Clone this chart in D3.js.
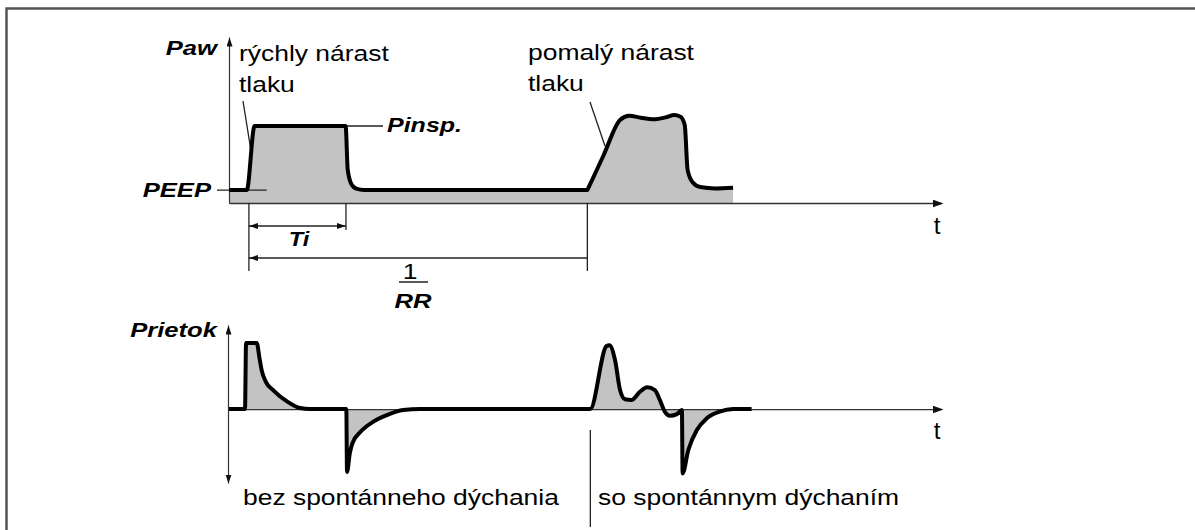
<!DOCTYPE html>
<html>
<head>
<meta charset="utf-8">
<script src="https://cdn.jsdelivr.net/npm/d3@7"></script>
<style>
body { margin: 0; background: #fff; }
text { font-family: "Liberation Sans", Arial, sans-serif; fill: #000; }
.lbl { font-weight: bold; font-style: italic; font-size: 20.5px; }
.txt { font-size: 21.5px; }
.big { font-size: 24px; }
</style>
</head>
<body>
<div id="chart"></div>
<script>
// airway pressure trace (time, pressure)
var pawTime  = [0, 2.5, 3.6, 16.4, 16.7, 17.2, 17.9, 19, 50.4, 50.5, 52.7, 55, 56.3, 57.9, 59.6, 61.6, 62.6, 63.5, 64.1, 64.5, 65.2, 66.3, 68.4, 70.9];
var pawValue = [7.8, 7.8, 46.4, 46.4, 20, 11.5, 8.6, 7.8, 7.8, 8.7, 28.9, 50, 52.5, 51.4, 50.4, 51.8, 53, 52, 47, 20, 12.5, 9.6, 8.8, 9.2];

// flow trace (time, flow)
var flowTime  = [0, 2.25, 2.4, 3.9, 4.3, 4.6, 5.2, 6.2, 8.2, 10, 11.4, 16.5, 16.6, 17.0, 17.4, 18.4, 20.3, 22.2, 24.5, 26.9,
                 50.4, 50.8, 53.1, 53.5, 54.3, 55, 55.7, 56.6, 57.8, 58.8, 59.9, 60.6, 61.3, 62, 63, 63.7, 63.8, 64.6, 65.8, 67.2, 69, 70.9, 73.5];
var flowValue = [0, 0, 39.3, 39.3, 30, 23, 16, 11.3, 4.4, 0.6, 0, 0, -37.4, -26, -20, -14, -7.5, -3.6, -0.6, 0,
                 0, 0, 37.5, 38, 29, 11.3, 5.8, 5.4, 10.3, 12.9, 11.3, 5.4, -1.6, -4, -3, -0.6, -38.3, -24.4, -12.5, -5.5, -1.6, 0, 0];

// timing marks: start of breath, end of inspiration, next breath
var breathStart = 2.8, inspEnd = 16.45, nextBreath = 50.4;
var peepLevel = 7.8, pinspLevel = 46.4;

var pawData = pawTime.map(function(t, i) { return [t, pawValue[i]]; });
var flowData = flowTime.map(function(t, i) { return [t, flowValue[i]]; });

var svg = d3.select("#chart")
  .append("svg")
  .attr("width", 1195)
  .attr("height", 530);

// arrow heads
var defs = svg.append("defs");
defs.append("marker")
  .attr("id", "arr")
  .attr("markerUnits", "userSpaceOnUse")
  .attr("markerWidth", 12).attr("markerHeight", 10)
  .attr("refX", 8).attr("refY", 4)
  .attr("orient", "auto-start-reverse")
  .append("path").attr("d", "M0,0L11,4L0,8Z").attr("fill", "#111");
defs.append("marker")
  .attr("id", "arrSmall")
  .attr("markerUnits", "userSpaceOnUse")
  .attr("markerWidth", 10).attr("markerHeight", 8)
  .attr("refX", 9).attr("refY", 3)
  .attr("orient", "auto-start-reverse")
  .append("path").attr("d", "M0,0L9,3L0,6Z").attr("fill", "#111");

// frame
svg.append("path")
  .attr("d", "M6.5,530V8.5H1195")
  .attr("fill", "none")
  .attr("stroke", "#555")
  .attr("stroke-width", 2.5);

// scales
var x = d3.scaleLinear().domain([0, 100]).range([229, 940]);
var yP = d3.scaleLinear().domain([0, 100]).range([203, 37]);
var yF = d3.scaleLinear().domain([-44, 50]).range([483, 325]);

// ---------- pressure ----------
var areaP = d3.area()
  .x(function(d) { return x(d[0]); })
  .y0(yP(0))
  .y1(function(d) { return yP(d[1]); })
  .curve(d3.curveMonotoneX);
var lineP = d3.line()
  .x(function(d) { return x(d[0]); })
  .y(function(d) { return yP(d[1]); })
  .curve(d3.curveMonotoneX);

svg.append("path").datum(pawData).attr("d", areaP).attr("fill", "#c3c3c3");

var axP = svg.append("g")
  .attr("transform", "translate(0," + yP(0) + ")")
  .call(d3.axisBottom(x).tickValues([]).tickSizeOuter(0));
axP.select(".domain").attr("stroke", "#333").attr("stroke-width", 1.3).attr("marker-end", "url(#arr)");

var ayP = svg.append("g")
  .attr("transform", "translate(" + x(0) + ",0)")
  .call(d3.axisLeft(yP).tickValues([]).tickSizeOuter(0));
ayP.select(".domain").attr("stroke", "#333").attr("stroke-width", 1.2).attr("marker-end", "url(#arrSmall)");

// leader lines
function seg(x1, y1, x2, y2, w) {
  svg.append("line")
    .attr("x1", x1).attr("y1", y1).attr("x2", x2).attr("y2", y2)
    .attr("stroke", "#222").attr("stroke-width", w || 1.3);
}
seg(217, yP(peepLevel), x(5.3), yP(peepLevel));
seg(x(inspEnd), yP(pinspLevel), 383, yP(pinspLevel));
seg(243, 101, 251, 151);
seg(590, 102, 605, 146);

svg.append("path").datum(pawData).attr("d", lineP)
  .attr("fill", "none").attr("stroke", "#000").attr("stroke-width", 4)
  .attr("stroke-linejoin", "round");

// timing dimensions
seg(x(breathStart), yP(0), x(breathStart), 271);
seg(x(inspEnd), yP(0), x(inspEnd), 230);
seg(x(nextBreath), yP(0), x(nextBreath), 271);
svg.append("line")
  .attr("x1", x(breathStart)).attr("x2", x(inspEnd))
  .attr("y1", 226).attr("y2", 226)
  .attr("stroke", "#222").attr("stroke-width", 1.3)
  .attr("marker-start", "url(#arrSmall)").attr("marker-end", "url(#arrSmall)");
svg.append("line")
  .attr("x1", x(breathStart)).attr("x2", x(nextBreath))
  .attr("y1", 258).attr("y2", 258)
  .attr("stroke", "#222").attr("stroke-width", 1.3)
  .attr("marker-start", "url(#arrSmall)");
seg(399, 282, 428, 282, 1.5);

// ---------- flow ----------
var areaF = d3.area()
  .x(function(d) { return x(d[0]); })
  .y0(yF(0))
  .y1(function(d) { return yF(d[1]); })
  .curve(d3.curveMonotoneX);
var lineF = d3.line()
  .x(function(d) { return x(d[0]); })
  .y(function(d) { return yF(d[1]); })
  .curve(d3.curveMonotoneX);

svg.append("path").datum(flowData).attr("d", areaF).attr("fill", "#c3c3c3");

var axF = svg.append("g")
  .attr("transform", "translate(0," + yF(0) + ")")
  .call(d3.axisBottom(x).tickValues([]).tickSizeOuter(0));
axF.select(".domain").attr("stroke", "#333").attr("stroke-width", 1.3).attr("marker-end", "url(#arr)");

var ayF = svg.append("g")
  .attr("transform", "translate(" + (x(0) - 1) + ",0)")
  .call(d3.axisLeft(yF).tickValues([]).tickSizeOuter(0));
ayF.select(".domain").attr("stroke", "#333").attr("stroke-width", 1.2)
  .attr("marker-start", "url(#arrSmall)").attr("marker-end", "url(#arrSmall)");

svg.append("path").datum(flowData).attr("d", lineF)
  .attr("fill", "none").attr("stroke", "#000").attr("stroke-width", 4)
  .attr("stroke-linejoin", "round");

// divider between the two cases
seg(x(nextBreath) + 3, 430, x(nextBreath) + 3, 527);

// ---------- texts ----------
function label(str, tx, ty, cls, anchor, sx) {
  svg.append("text")
    .attr("class", cls)
    .attr("text-anchor", anchor || "start")
    .attr("transform", "translate(" + tx + "," + ty + ") scale(" + (sx || 1.23) + ",1)")
    .text(str);
}
label("Paw", 217, 55, "lbl", "end", 1.25);
label("rýchly nárast", 239, 61, "txt");
label("tlaku", 239, 92, "txt");
label("pomalý nárast", 528, 60, "txt");
label("tlaku", 528, 91, "txt");
label("Pinsp.", 387, 132, "lbl", "start", 1.22);
label("PEEP", 211, 197, "lbl", "end", 1.25);
label("Ti", 299, 246, "lbl", "middle", 1.15);
label("1", 410, 279, "txt", "middle");
label("RR", 413, 308, "lbl", "middle", 1.25);
label("t", 937, 234, "big", "middle", 1);
label("Prietok", 217, 337, "lbl", "end", 1.25);
label("t", 937, 439, "big", "middle", 1);
label("bez spontánneho dýchania", 243, 505, "txt");
label("so spontánnym dýchaním", 598, 505, "txt");
</script>
</body>
</html>
